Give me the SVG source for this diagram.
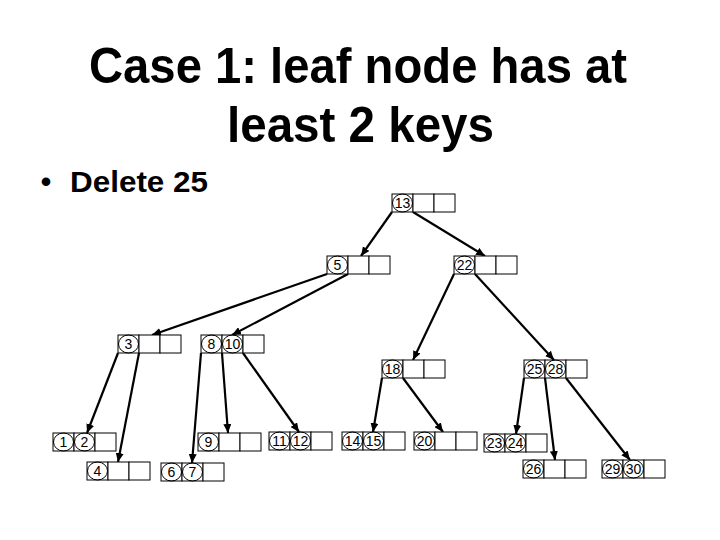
<svg xmlns="http://www.w3.org/2000/svg" width="720" height="540" viewBox="0 0 720 540">
<style>
.title{font-family:"Liberation Sans",Arial,sans-serif;font-weight:bold;font-size:50px;fill:#000}
.bul{font-family:"Liberation Sans",Arial,sans-serif;font-weight:bold;font-size:30px;fill:#000}
.cell{fill:#fff;stroke:#000;stroke-width:1}
.key{fill:none;stroke:#000;stroke-width:1}
.k{font-family:"Liberation Sans",Arial,sans-serif;font-size:14px;fill:#000;text-anchor:middle}
.edge{stroke:#000;stroke-width:2.2;fill:none;marker-end:url(#ah)}
</style>
<defs>
<marker id="ah" markerUnits="userSpaceOnUse" markerWidth="10" markerHeight="8" refX="9" refY="4" orient="auto">
<path d="M0,0 L9,4 L0,8 Z" fill="#000"/>
</marker>
<g id="cells">
<rect class="cell" x="0" y="0" width="21" height="18"/>
<rect class="cell" x="21" y="0" width="21" height="18"/>
<rect class="cell" x="42" y="0" width="21" height="18"/>
</g>
</defs>
<rect width="720" height="540" fill="#fff"/>
<text class="title" x="89" y="83" textLength="538" lengthAdjust="spacingAndGlyphs">Case 1: leaf node has at</text>
<text class="title" x="227" y="142" textLength="267" lengthAdjust="spacingAndGlyphs">least 2 keys</text>
<text class="bul" x="46" y="192" text-anchor="middle">•</text>
<text class="bul" x="70" y="192" textLength="138" lengthAdjust="spacingAndGlyphs">Delete 25</text>

<g id="connectors">
<line class="edge" x1="392" y1="212" x2="361" y2="256"/>
<line class="edge" x1="413" y1="212" x2="485" y2="256"/>
<line class="edge" x1="327" y1="274" x2="152" y2="335"/>
<line class="edge" x1="348" y1="274" x2="232" y2="335"/>
<line class="edge" x1="454" y1="274" x2="413" y2="360"/>
<line class="edge" x1="475" y1="274" x2="554" y2="360"/>
<line class="edge" x1="118" y1="353" x2="87" y2="433"/>
<line class="edge" x1="139" y1="353" x2="118" y2="462"/>
<line class="edge" x1="201" y1="353" x2="192" y2="463"/>
<line class="edge" x1="222" y1="353" x2="228" y2="433"/>
<line class="edge" x1="243" y1="353" x2="299" y2="432"/>
<line class="edge" x1="382" y1="378" x2="373" y2="432"/>
<line class="edge" x1="403" y1="378" x2="443" y2="432"/>
<line class="edge" x1="524" y1="378" x2="516" y2="434"/>
<line class="edge" x1="545" y1="378" x2="555" y2="460"/>
<line class="edge" x1="566" y1="378" x2="630" y2="460"/>
</g>

<g id="n13" transform="translate(392,194)"><use href="#cells"/><ellipse class="key" cx="10.5" cy="9" rx="10" ry="9"/><text class="k" x="10.5" y="14">13</text></g>
<g id="n5" transform="translate(327,256)"><use href="#cells"/><ellipse class="key" cx="10.5" cy="9" rx="10" ry="9"/><text class="k" x="10.5" y="14">5</text></g>
<g id="n22" transform="translate(454,256)"><use href="#cells"/><ellipse class="key" cx="10.5" cy="9" rx="10" ry="9"/><text class="k" x="10.5" y="14">22</text></g>
<g id="n3" transform="translate(118,335)"><use href="#cells"/><ellipse class="key" cx="10.5" cy="9" rx="10" ry="9"/><text class="k" x="10.5" y="14">3</text></g>
<g id="n8_10" transform="translate(201,335)"><use href="#cells"/><ellipse class="key" cx="10.5" cy="9" rx="10" ry="9"/><text class="k" x="10.5" y="14">8</text><ellipse class="key" cx="31.5" cy="9" rx="10" ry="9"/><text class="k" x="31.5" y="14">10</text></g>
<g id="n18" transform="translate(382,360)"><use href="#cells"/><ellipse class="key" cx="10.5" cy="9" rx="10" ry="9"/><text class="k" x="10.5" y="14">18</text></g>
<g id="n25_28" transform="translate(524,360)"><use href="#cells"/><ellipse class="key" cx="10.5" cy="9" rx="10" ry="9"/><text class="k" x="10.5" y="14">25</text><ellipse class="key" cx="31.5" cy="9" rx="10" ry="9"/><text class="k" x="31.5" y="14">28</text></g>
<g id="n1_2" transform="translate(53,433)"><use href="#cells"/><ellipse class="key" cx="10.5" cy="9" rx="10" ry="9"/><text class="k" x="10.5" y="14">1</text><ellipse class="key" cx="31.5" cy="9" rx="10" ry="9"/><text class="k" x="31.5" y="14">2</text></g>
<g id="n9" transform="translate(198,433)"><use href="#cells"/><ellipse class="key" cx="10.5" cy="9" rx="10" ry="9"/><text class="k" x="10.5" y="14">9</text></g>
<g id="n11_12" transform="translate(269,432)"><use href="#cells"/><ellipse class="key" cx="10.5" cy="9" rx="10" ry="9"/><text class="k" x="10.5" y="14">11</text><ellipse class="key" cx="31.5" cy="9" rx="10" ry="9"/><text class="k" x="31.5" y="14">12</text></g>
<g id="n14_15" transform="translate(342,432)"><use href="#cells"/><ellipse class="key" cx="10.5" cy="9" rx="10" ry="9"/><text class="k" x="10.5" y="14">14</text><ellipse class="key" cx="31.5" cy="9" rx="10" ry="9"/><text class="k" x="31.5" y="14">15</text></g>
<g id="n20" transform="translate(414,432)"><use href="#cells"/><ellipse class="key" cx="10.5" cy="9" rx="10" ry="9"/><text class="k" x="10.5" y="14">20</text></g>
<g id="n23_24" transform="translate(484,434)"><use href="#cells"/><ellipse class="key" cx="10.5" cy="9" rx="10" ry="9"/><text class="k" x="10.5" y="14">23</text><ellipse class="key" cx="31.5" cy="9" rx="10" ry="9"/><text class="k" x="31.5" y="14">24</text></g>
<g id="n4" transform="translate(87,462)"><use href="#cells"/><ellipse class="key" cx="10.5" cy="9" rx="10" ry="9"/><text class="k" x="10.5" y="14">4</text></g>
<g id="n6_7" transform="translate(161,463)"><use href="#cells"/><ellipse class="key" cx="10.5" cy="9" rx="10" ry="9"/><text class="k" x="10.5" y="14">6</text><ellipse class="key" cx="31.5" cy="9" rx="10" ry="9"/><text class="k" x="31.5" y="14">7</text></g>
<g id="n26" transform="translate(523,460)"><use href="#cells"/><ellipse class="key" cx="10.5" cy="9" rx="10" ry="9"/><text class="k" x="10.5" y="14">26</text></g>
<g id="n29_30" transform="translate(602,460)"><use href="#cells"/><ellipse class="key" cx="10.5" cy="9" rx="10" ry="9"/><text class="k" x="10.5" y="14">29</text><ellipse class="key" cx="31.5" cy="9" rx="10" ry="9"/><text class="k" x="31.5" y="14">30</text></g>
</svg>
